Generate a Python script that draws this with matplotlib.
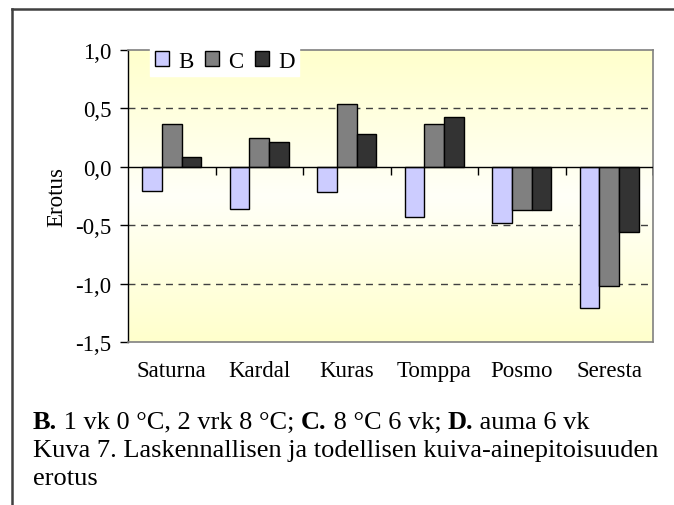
import numpy as np
import matplotlib
import matplotlib.pyplot as plt
from matplotlib.lines import Line2D
from matplotlib.colors import LinearSegmentedColormap
from matplotlib.transforms import offset_copy

matplotlib.use('Agg')

plt.rcParams['font.family'] = ['Liberation Serif', 'DejaVu Serif']

categories = ['Saturna', 'Kardal', 'Kuras', 'Tomppa', 'Posmo', 'Seresta']
series_names = ['B', 'C', 'D']
b_values = [-0.21, -0.36, -0.22, -0.43, -0.48, -1.21]
c_values = [0.37, 0.25, 0.54, 0.37, -0.37, -1.02]
d_values = [0.08, 0.21, 0.28, 0.43, -0.37, -0.56]
y_ticks = [1.0, 0.5, 0.0, -0.5, -1.0, -1.5]
y_ticklabels = ['1,0', '0,5', '0,0', '-0,5', '-1,0', '-1,5']
colors = ['#CCCCFF', '#808080', '#333333']

caption_line1 = [('B.', 'bold'), (' 1 vk 0 °C, 2 vrk 8 °C; ', 'normal'),
                 ('C.', 'bold'), (' 8 °C 6 vk; ', 'normal'),
                 ('D.', 'bold'), (' auma 6 vk', 'normal')]
caption_line2 = 'Kuva 7. Laskennallisen ja todellisen kuiva-ainepitoisuuden'
caption_line3 = 'erotus'

W, H = 674, 506
FS = 16.5
fig = plt.figure(figsize=(W / 100, H / 100), dpi=100)
ax = fig.add_axes([128 / W, 1 - 343 / H, (653 - 128) / W, (343 - 51) / H])

# background gradient: yellow at top and bottom, nearly white in the middle
cmap = LinearSegmentedColormap.from_list('bg', ['#FFFFCC', '#FFFFF8', '#FFFFCC'])
grad = np.linspace(0, 1, 256).reshape(-1, 1)
ax.imshow(grad, cmap=cmap, aspect='auto', extent=[0, 1, 0, 1],
          transform=ax.transAxes, zorder=0)

x = np.arange(len(categories))
width = 0.223
for i, (vals, col, name) in enumerate(zip([b_values, c_values, d_values], colors, series_names)):
    ax.bar(x + (i - 1) * width, vals, width, color=col, edgecolor='black',
           linewidth=1.0, label=name, zorder=3)

ax.set_xlim(-0.5, len(categories) - 0.5)
ax.set_ylim(-1.5, 1.0)

for yv in [0.5, -0.5, -1.0]:
    ax.axhline(yv, color='#404040', linestyle=(0, (5, 4)), linewidth=1.0, zorder=1)
ax.axhline(0, color='black', linewidth=1.0, zorder=4)
ax.vlines(x + 0.5, -0.07, 0, color='black', linewidth=1.0, zorder=4)

ax.set_yticks(y_ticks)
ax.set_yticklabels(y_ticklabels, fontsize=FS)
ax.tick_params(axis='y', direction='out', length=6, width=1, pad=6)
ax.set_xticks(x)
ax.set_xticklabels(categories, fontsize=FS)
ax.tick_params(axis='x', length=0, pad=13)

for side in ['top', 'right', 'bottom']:
    ax.spines[side].set_color('#808080')
    ax.spines[side].set_linewidth(1.2)
ax.spines['left'].set_color('black')
ax.spines['left'].set_linewidth(1.0)

ax.set_ylabel('Erotus', fontsize=FS)
ax.yaxis.set_label_coords(-0.115, 0.5)

leg = ax.legend(ncol=3, loc='upper left', bbox_to_anchor=(22 / 525, 1 + 4 / 292),
                fontsize=FS, frameon=True, fancybox=False, edgecolor='white',
                facecolor='white', framealpha=1, handlelength=0.62, handleheight=0.62,
                handletextpad=0.4, columnspacing=0.5, borderpad=0.2,
                borderaxespad=0)
leg.set_zorder(5)

# outer frame
fig.add_artist(Line2D([11.5 / W, 1], [1 - 10 / H, 1 - 10 / H], color='#404040', linewidth=1.8))
fig.add_artist(Line2D([11.5 / W, 11.5 / W], [0, 1 - 10 / H], color='#404040', linewidth=1.8))

# caption, first line mixes bold and regular pieces
CFS = 19
renderer = fig.canvas.get_renderer()
tr = fig.transFigure
for piece, weight in caption_line1:
    t = fig.text(33 / W, 1 - 429 / H, piece, fontsize=CFS, fontweight=weight,
                 ha='left', va='baseline', transform=tr)
    ext = t.get_window_extent(renderer=renderer)
    tr = offset_copy(tr, fig=fig, x=ext.width, y=0, units='dots')
fig.text(33 / W, 1 - 457 / H, caption_line2, fontsize=CFS, ha='left', va='baseline')
fig.text(33 / W, 1 - 485 / H, caption_line3, fontsize=CFS, ha='left', va='baseline')

fig.savefig('out.png', dpi=100)
